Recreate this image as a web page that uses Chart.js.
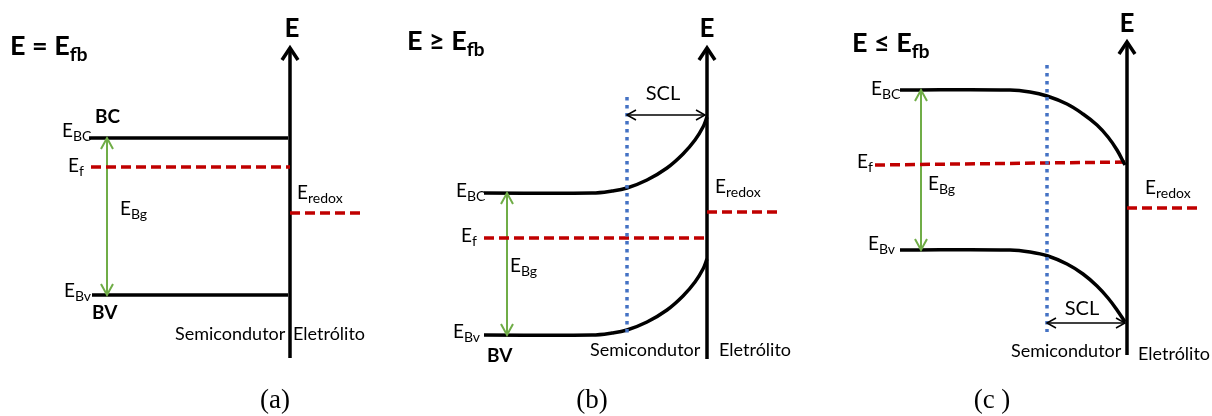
<!DOCTYPE html>
<html>
<head>
<meta charset="utf-8">
<script src="https://cdn.jsdelivr.net/npm/chart.js@4"></script>
<style>
  html, body { margin: 0; padding: 0; background: #fff; }
  #bands { display: block; }
</style>
</head>
<body>
<canvas id="bands" width="1212" height="416"></canvas>
<script>
// Band positions (x = distance, y = energy level, measured downward)
// (a) flat band potential
const bcA = [{ x: 89, y: 138 }, { x: 288, y: 138 }];
const bvA = [{ x: 92, y: 295 }, { x: 288, y: 295 }];
const efA = [{ x: 91, y: 167 }, { x: 290, y: 167 }];
const redoxA = [{ x: 290, y: 213 }, { x: 364, y: 213 }];
const gapA = [{ x: 107, y: 138 }, { x: 107, y: 295 }];
const axisA = [{ x: 290, y: 358 }, { x: 290, y: 48 }];

// (b) bands bent upward
const bcB = [{ x: 484, y: 193 }, { x: 592, y: 193 }, { x: 612, y: 191 }, { x: 627, y: 188 },
  { x: 647, y: 180 }, { x: 667, y: 168 }, { x: 683, y: 154 }, { x: 695, y: 140 },
  { x: 703, y: 127 }, { x: 707, y: 117 }];
const bvB = [{ x: 484, y: 335 }, { x: 592, y: 335 }, { x: 612, y: 333 }, { x: 627, y: 330 },
  { x: 647, y: 322 }, { x: 667, y: 310 }, { x: 683, y: 296 }, { x: 695, y: 282 },
  { x: 703, y: 269 }, { x: 707, y: 259 }];
const efB = [{ x: 484, y: 238 }, { x: 707, y: 238 }];
const redoxB = [{ x: 707, y: 212 }, { x: 781, y: 212 }];
const gapB = [{ x: 507, y: 193 }, { x: 507, y: 335 }];
const sclB = [{ x: 627, y: 115 }, { x: 705, y: 115 }];
const depthB = [{ x: 627, y: 97 }, { x: 627, y: 333 }];
const axisB = [{ x: 707, y: 359 }, { x: 707, y: 48 }];

// (c) bands bent downward
const bcC = [{ x: 900, y: 90 }, { x: 1010, y: 90 }, { x: 1030, y: 92 }, { x: 1047, y: 96 },
  { x: 1067, y: 104 }, { x: 1083, y: 114 }, { x: 1097, y: 125 }, { x: 1108, y: 137 },
  { x: 1117, y: 150 }, { x: 1125, y: 165 }];
const bvC = [{ x: 900, y: 250 }, { x: 1010, y: 250 }, { x: 1030, y: 252 }, { x: 1048, y: 256 },
  { x: 1067, y: 264 }, { x: 1083, y: 274 }, { x: 1097, y: 286 }, { x: 1108, y: 298 },
  { x: 1117, y: 310 }, { x: 1125, y: 322 }];
const efC = [{ x: 875, y: 165 }, { x: 1127, y: 162 }];
const redoxC = [{ x: 1127, y: 208 }, { x: 1201, y: 208 }];
const gapC = [{ x: 921, y: 90 }, { x: 921, y: 250 }];
const sclC = [{ x: 1047, y: 323 }, { x: 1125, y: 323 }];
const depthC = [{ x: 1047, y: 65 }, { x: 1047, y: 332 }];
const axisC = [{ x: 1127, y: 355 }, { x: 1127, y: 42 }];

const BLACK = "#000";
const RED = "#c00000";
const GREEN = "#70ad47";
const BLUE = "#4472c4";
const SANS = "Lato, 'Open Sans', sans-serif";
const SERIF = "'Liberation Serif', 'DejaVu Serif', serif";

// text placed in the same units as the bands
const labels = [
  { t: "E = E", sub: "fb", x: 10, y: 55, size: 27, bold: true },
  { t: "E ≥ E", sub: "fb", x: 407, y: 50, size: 27, bold: true },
  { t: "E ≤ E", sub: "fb", x: 852, y: 52, size: 27, bold: true },
  { t: "E", x: 292, y: 37, size: 26, bold: true, align: "center" },
  { t: "E", x: 707, y: 37, size: 26, bold: true, align: "center" },
  { t: "E", x: 1127, y: 32, size: 26, bold: true, align: "center" },

  { t: "E", sub: "BC", x: 62, y: 137 },
  { t: "BC", x: 95, y: 123, bold: true, size: 19 },
  { t: "E", sub: "f", x: 68, y: 172 },
  { t: "E", sub: "Bg", x: 120, y: 215 },
  { t: "E", sub: "Bv", x: 64, y: 297 },
  { t: "BV", x: 92, y: 319, bold: true, size: 19 },
  { t: "E", sub: "redox", x: 297, y: 199 },
  { t: "Semicondutor", x: 175, y: 340, size: 18 },
  { t: "Eletrólito", x: 293, y: 340, size: 18 },
  { t: "(a)", x: 275, y: 408, size: 27, font: SERIF, align: "center" },

  { t: "E", sub: "BC", x: 456, y: 197 },
  { t: "E", sub: "f", x: 461, y: 242 },
  { t: "E", sub: "Bg", x: 510, y: 272 },
  { t: "E", sub: "Bv", x: 453, y: 338 },
  { t: "BV", x: 487, y: 362, bold: true, size: 19 },
  { t: "E", sub: "redox", x: 715, y: 193 },
  { t: "SCL", x: 663, y: 100, size: 20, align: "center" },
  { t: "Semicondutor", x: 590, y: 356, size: 18 },
  { t: "Eletrólito", x: 719, y: 356, size: 18 },
  { t: "(b)", x: 592, y: 408, size: 27, font: SERIF, align: "center" },

  { t: "E", sub: "BC", x: 871, y: 95 },
  { t: "E", sub: "f", x: 857, y: 168 },
  { t: "E", sub: "Bg", x: 928, y: 190 },
  { t: "E", sub: "Bv", x: 868, y: 250 },
  { t: "E", sub: "redox", x: 1145, y: 194 },
  { t: "SCL", x: 1082, y: 315, size: 20, align: "center" },
  { t: "Semicondutor", x: 1011, y: 357, size: 18 },
  { t: "Eletrólito", x: 1138, y: 360, size: 18 },
  { t: "(c )", x: 992, y: 408, size: 27, font: SERIF, align: "center" },
];

function line(data, color, width, extra) {
  return Object.assign({
    data: data,
    showLine: true,
    borderColor: color,
    backgroundColor: color,
    borderWidth: width,
    pointRadius: 0,
    pointHoverRadius: 0,
    fill: false,
    clip: false,
  }, extra || {});
}

const band = (d) => line(d, BLACK, 3.5, { tension: 0.4, borderCapStyle: "butt" });
const fermi = (d) => line(d, RED, 3.5, { borderDash: [10, 5] });
const gap = (d) => line(d, GREEN, 2, { arrowStart: [6, 11], arrowEnd: [6, 11] });
const scl = (d) => line(d, BLACK, 1.5, { arrowStart: [5, 9], arrowEnd: [5, 9] });
const depth = (d) => line(d, BLUE, 3.5, { borderDash: [3.5, 4.5] });
const axis = (d) => line(d, BLACK, 3.5, { arrowEnd: [8, 12] });

// chevron heads on the ends of lines that ask for them
const arrowHeads = {
  id: "arrowHeads",
  afterDatasetsDraw(chart) {
    const ctx = chart.ctx;
    chart.data.datasets.forEach((ds, i) => {
      const pts = chart.getDatasetMeta(i).data;
      if (pts.length < 2) return;
      const heads = [];
      if (ds.arrowEnd) heads.push([pts[pts.length - 1], pts[pts.length - 2], ds.arrowEnd]);
      if (ds.arrowStart) heads.push([pts[0], pts[1], ds.arrowStart]);
      heads.forEach(([tip, from, size]) => {
        const ang = Math.atan2(tip.y - from.y, tip.x - from.x);
        const [half, len] = size;
        ctx.save();
        ctx.translate(tip.x, tip.y);
        ctx.rotate(ang);
        ctx.strokeStyle = ds.borderColor;
        ctx.lineWidth = ds.borderWidth;
        ctx.lineJoin = "miter";
        ctx.beginPath();
        ctx.moveTo(-len, -half);
        ctx.lineTo(0, 0);
        ctx.lineTo(-len, half);
        ctx.stroke();
        ctx.restore();
      });
    });
  },
};

const textLabels = {
  id: "textLabels",
  afterDraw(chart) {
    const ctx = chart.ctx;
    const xs = chart.scales.x;
    const ys = chart.scales.y;
    ctx.save();
    ctx.fillStyle = BLACK;
    ctx.textBaseline = "alphabetic";
    labels.forEach((l) => {
      const size = l.size || 19;
      const fam = l.font || SANS;
      const weight = l.bold ? "bold " : "";
      const subSize = Math.round(size * 0.72);
      ctx.font = weight + size + "px " + fam;
      let w = ctx.measureText(l.t).width;
      let sw = 0;
      if (l.sub) {
        ctx.font = weight + subSize + "px " + fam;
        sw = ctx.measureText(l.sub).width;
      }
      let x = xs.getPixelForValue(l.x);
      const y = ys.getPixelForValue(l.y);
      if (l.align === "center") x -= (w + sw) / 2;
      ctx.font = weight + size + "px " + fam;
      ctx.textAlign = "left";
      ctx.fillText(l.t, x, y);
      if (l.sub) {
        ctx.font = weight + subSize + "px " + fam;
        ctx.fillText(l.sub, x + w, y + size * 0.22);
      }
    });
    ctx.restore();
  },
};

new Chart(document.getElementById("bands"), {
  type: "scatter",
  data: {
    datasets: [
      band(bcA), band(bvA), fermi(efA), fermi(redoxA), gap(gapA), axis(axisA),
      depth(depthB), band(bcB), band(bvB), fermi(efB), fermi(redoxB), gap(gapB), scl(sclB), axis(axisB),
      depth(depthC), band(bcC), band(bvC), fermi(efC), fermi(redoxC), gap(gapC), scl(sclC), axis(axisC),
    ],
  },
  options: {
    responsive: false,
    animation: false,
    devicePixelRatio: 1,
    layout: { padding: 0 },
    plugins: { legend: { display: false }, tooltip: { enabled: false } },
    scales: {
      x: { type: "linear", min: 0, max: 1212, display: false },
      y: { type: "linear", min: 0, max: 416, reverse: true, display: false },
    },
  },
  plugins: [arrowHeads, textLabels],
});
</script>
</body>
</html>
